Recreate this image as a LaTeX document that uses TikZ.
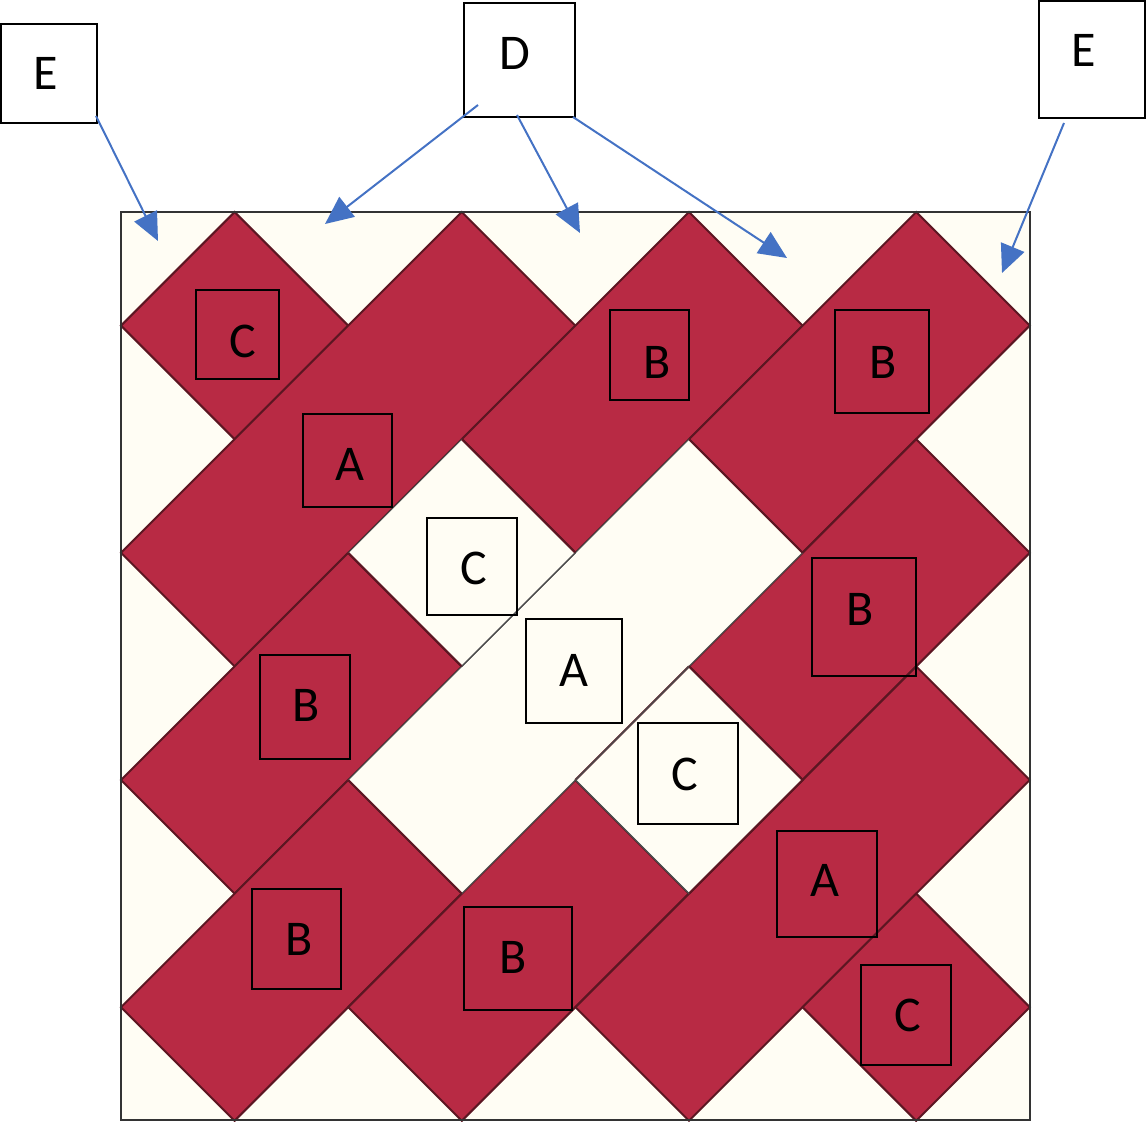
\documentclass[tikz,border=0pt]{standalone}
\usepackage{fontspec}
\setmainfont{Carlito}
\usetikzlibrary{arrows.meta}
\definecolor{quiltred}{RGB}{184,42,68}
\definecolor{seam}{RGB}{92,22,34}
\definecolor{cream}{RGB}{255,253,244}
\definecolor{arrowblue}{RGB}{68,114,196}
\tikzset{
  redpiece/.style={fill=quiltred, draw=seam, line width=1pt, line join=miter},
  whitepiece/.style={fill=cream, draw=black!70, line width=0.5pt},
  lbox/.style={draw=black, line width=1.2pt, inner sep=0pt, outer sep=0pt},
  ltext/.style={inner sep=0pt, font=\fontsize{25}{30}\selectfont},
  pointer/.style={draw=arrowblue, line width=1pt, -{Triangle[length=14pt,width=12.5pt]}}
}
\begin{document}
\begin{tikzpicture}[x=0.5pt,y=-0.5pt]
\useasboundingbox (0,0) rectangle (1146,1122);
% quilt background
\fill[cream] (121,212) rectangle (1030,1120);
\begin{scope}[xshift=60.5pt,yshift=-106pt,x=56.8pt,y=-56.8pt]
  % red pieces
  \draw[redpiece] (1,0) -- (2,1) -- (1,2) -- (0,1) -- cycle;   % C
  \draw[redpiece] (3,0) -- (4,1) -- (1,4) -- (0,3) -- cycle;   % A
  \draw[redpiece] (5,0) -- (6,1) -- (4,3) -- (3,2) -- cycle;   % B
  \draw[redpiece] (7,0) -- (8,1) -- (6,3) -- (5,2) -- cycle;   % B
  \draw[redpiece] (7,2) -- (8,3) -- (6,5) -- (5,4) -- cycle;   % B
  \draw[redpiece] (2,3) -- (3,4) -- (1,6) -- (0,5) -- cycle;   % B
  \draw[redpiece] (2,5) -- (3,6) -- (1,8) -- (0,7) -- cycle;   % B
  \draw[redpiece] (4,5) -- (5,6) -- (3,8) -- (2,7) -- cycle;   % B
  \draw[redpiece] (7,4) -- (8,5) -- (5,8) -- (4,7) -- cycle;   % A
  \draw[redpiece] (7,6) -- (8,7) -- (7,8) -- (6,7) -- cycle;   % C
  % white centre pieces
  \draw[whitepiece] (3,2) -- (4,3) -- (3,4) -- (2,3) -- cycle; % C
  \draw[whitepiece] (5,2) -- (6,3) -- (3,6) -- (2,5) -- cycle; % A
  \draw[whitepiece] (5,4) -- (6,5) -- (5,6) -- (4,5) -- cycle; % C
  % red seams round the white centre
  \draw[draw=seam, line width=1pt] (3,2) -- (4,3) (3,4) -- (2,3) -- cycle;
  \draw[draw=seam, line width=1pt] (5,4) -- (6,5) -- (5,6) (4,5) -- (5,4);
  \draw[draw=seam, line width=1pt] (5,2) -- (6,3) (3,6) -- (2,5);
  \draw[draw=black!70, line width=0.6pt] (4,3) -- (3,4) (5,6) -- (4,5) -- (5,4);
\end{scope}
\draw[draw=black!80, line width=1pt] (121,212) rectangle (1030,1120);

% label boxes
\node[lbox, minimum width=48pt, minimum height=49.5pt] (eL) at (49,73.5) {};
\node[lbox, minimum width=55.5pt, minimum height=57pt] (d) at (519.5,60) {};
\node[lbox, minimum width=53pt, minimum height=58.5pt] (eR) at (1092,59.5) {};
\node[lbox, minimum width=41.5pt, minimum height=44.5pt] (c1) at (237.5,334.5) {};
\node[lbox, minimum width=44.5pt, minimum height=46.5pt] (a1) at (347.5,460.5) {};
\node[lbox, minimum width=39.5pt, minimum height=45pt] (b1) at (649.5,355) {};
\node[lbox, minimum width=47pt, minimum height=51.5pt] (b2) at (882,361.5) {};
\node[lbox, minimum width=45pt, minimum height=48.5pt] (cw1) at (472,566.5) {};
\node[lbox, minimum width=48pt, minimum height=52pt] (aw) at (574,671) {};
\node[lbox, minimum width=52pt, minimum height=59pt] (b3) at (864,617) {};
\node[lbox, minimum width=45pt, minimum height=52pt] (b6) at (305,707) {};
\node[lbox, minimum width=50pt, minimum height=50.5pt] (cw2) at (688,773.5) {};
\node[lbox, minimum width=50pt, minimum height=53pt] (a2) at (827,884) {};
\node[lbox, minimum width=44.5pt, minimum height=50pt] (b5) at (296.5,939) {};
\node[lbox, minimum width=54pt, minimum height=51.5pt] (b4) at (518,958.5) {};
\node[lbox, minimum width=45pt, minimum height=50pt] (c2) at (906,1015) {};

% label texts
\node[ltext] (eLt) at (46,73) {E};
\node[ltext] (dt) at (515,53) {D};
\node[ltext] (eRt) at (1084,50) {E};
\node[ltext] (c1t) at (243,341) {C};
\node[ltext] (a1t) at (350,464) {A};
\node[ltext] (b1t) at (657,362) {B};
\node[ltext] (b2t) at (883,362) {B};
\node[ltext] (cw1t) at (474,568) {C};
\node[ltext] (awt) at (574,670) {A};
\node[ltext] (b3t) at (860,609) {B};
\node[ltext] (b6t) at (306,705) {B};
\node[ltext] (cw2t) at (685,774) {C};
\node[ltext] (a2t) at (825,880) {A};
\node[ltext] (b5t) at (299,939) {B};
\node[ltext] (b4t) at (513,957) {B};
\node[ltext] (c2t) at (908,1015) {C};

% arrow ends
\coordinate (eLs) at (96,116);
\coordinate (eLe) at (158,241);
\coordinate (d1s) at (478,105);
\coordinate (d1e) at (325,224);
\coordinate (d2s) at (517,115);
\coordinate (d2e) at (580,233);
\coordinate (d3s) at (573,117);
\coordinate (d3e) at (787,258);
\coordinate (eRs) at (1064,123);
\coordinate (eRe) at (1002,273);

\draw[pointer] (eLs) -- (eLe);
\draw[pointer] (d1s) -- (d1e);
\draw[pointer] (d2s) -- (d2e);
\draw[pointer] (d3s) -- (d3e);
\draw[pointer] (eRs) -- (eRe);
\end{tikzpicture}
\end{document}
